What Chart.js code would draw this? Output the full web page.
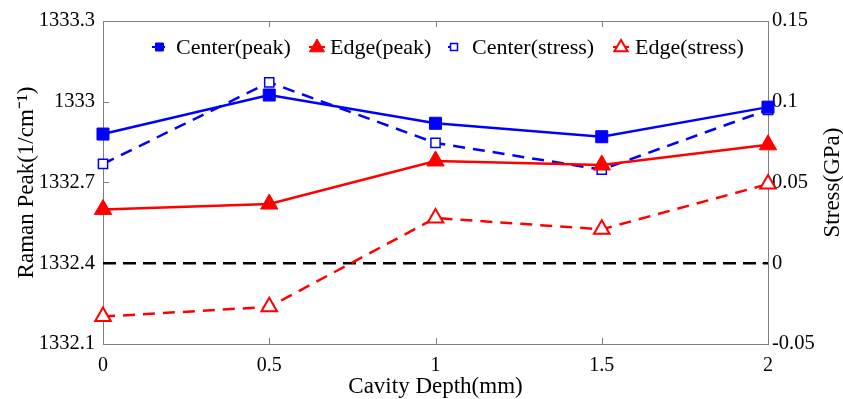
<!DOCTYPE html>
<html>
<head>
<meta charset="utf-8">
<script src="https://cdn.jsdelivr.net/npm/chart.js@4"></script>
<style>
  html, body { margin: 0; padding: 0; background: #fff; }
  #wrap { width: 843px; height: 399px; }
</style>
</head>
<body>
<div id="wrap"><canvas id="ramanChart" width="843" height="399"></canvas></div>
<script>
const depths = [0, 0.5, 1, 1.5, 2];
const centerPeak = [1332.88, 1333.025, 1332.92, 1332.87, 1332.98];
const edgePeak = [1332.60, 1332.62, 1332.78, 1332.765, 1332.84];
const centerStress = [0.0615, 0.112, 0.0745, 0.058, 0.095];
const edgeStress = [-0.033, -0.027, 0.028, 0.021, 0.049];
const zeroStress = [0, 0, 0, 0, 0];

const xTicks = [0, 0.5, 1, 1.5, 2];
const peakTicks = [1332.1, 1332.4, 1332.7, 1333, 1333.3];
const stressTicks = [-0.05, 0, 0.05, 0.1, 0.15];

const FONT = "'Liberation Serif', 'Times New Roman', serif";
const BLUE = '#0000ff';
const RED = '#ff0000';

const pts = vals => depths.map((d, i) => ({ x: d, y: vals[i] }));

// box round the plot plus small inward ticks, like matlab
const frameAndTicks = {
  id: 'frameAndTicks',
  beforeDatasetsDraw(chart) {
    const { ctx, chartArea: a, scales } = chart;
    ctx.save();
    ctx.strokeStyle = '#808080';
    ctx.lineWidth = 1;
    ctx.strokeRect(a.left + 0.5, a.top + 0.5, a.right - a.left, a.bottom - a.top);
    ctx.beginPath();
    xTicks.forEach(v => {
      const px = Math.round(scales.x.getPixelForValue(v)) + 0.5;
      ctx.moveTo(px, a.bottom); ctx.lineTo(px, a.bottom - 6);
      ctx.moveTo(px, a.top); ctx.lineTo(px, a.top + 6);
    });
    peakTicks.forEach(v => {
      const py = Math.round(scales.y.getPixelForValue(v)) + 0.5;
      ctx.moveTo(a.left, py); ctx.lineTo(a.left + 6, py);
    });
    stressTicks.forEach(v => {
      const py = Math.round(scales.y2.getPixelForValue(v)) + 0.5;
      ctx.moveTo(a.right, py); ctx.lineTo(a.right - 6, py);
    });
    ctx.stroke();
    ctx.restore();
  },
  afterDraw(chart) {
    // right title reads bottom to top, same as the left one
    const { ctx, chartArea: a } = chart;
    ctx.save();
    ctx.font = '23px ' + FONT;
    ctx.fillStyle = '#000';
    ctx.textAlign = 'center';
    ctx.textBaseline = 'middle';
    ctx.translate(833, (a.top + a.bottom) / 2);
    ctx.rotate(-Math.PI / 2);
    ctx.fillText('Stress(GPa)', 0, 0);
    ctx.restore();
  }
};

// legend sits inside the plot in one row
const innerLegend = {
  id: 'innerLegend',
  afterDraw(chart) {
    const { ctx } = chart;
    const items = [
      { ds: 0, x: 152, len: 13, r: 4, textX: 176 },
      { ds: 1, x: 309, len: 16, r: 8, textX: 330 },
      { ds: 2, x: 448, len: 10, r: 3.5, textX: 472 },
      { ds: 3, x: 613, len: 16, r: 7, textX: 635 }
    ];
    const y = 47;
    ctx.save();
    ctx.font = '22px ' + FONT;
    ctx.textBaseline = 'middle';
    items.forEach(it => {
      const ds = chart.data.datasets[it.ds];
      ctx.strokeStyle = ds.borderColor;
      ctx.lineWidth = 2;
      ctx.beginPath();
      ctx.moveTo(it.x, y); ctx.lineTo(it.x + it.len, y);
      ctx.stroke();
      const cx = it.x + it.len / 2 + (ds.pointStyle === 'rect' ? 1 : 0);
      const r = it.r;
      ctx.fillStyle = ds.pointBackgroundColor;
      ctx.strokeStyle = ds.pointBorderColor;
      ctx.lineWidth = ds.pointBorderWidth;
      ctx.beginPath();
      if (ds.pointStyle === 'rect') {
        ctx.rect(cx - r, y - r, r * 2, r * 2);
      } else {
        ctx.moveTo(cx, y - r);
        ctx.lineTo(cx + r * 0.95, y + r * 0.6);
        ctx.lineTo(cx - r * 0.95, y + r * 0.6);
        ctx.closePath();
      }
      ctx.fill();
      ctx.stroke();
      ctx.fillStyle = '#000';
      ctx.fillText(ds.label, it.textX, y + 1);
    });
    ctx.restore();
  }
};

const ramanData = {
  datasets: [
    {
      label: 'Center(peak)',
      data: pts(centerPeak),
      yAxisID: 'y',
      borderColor: BLUE,
      borderWidth: 2.5,
      pointStyle: 'rect',
      pointRadius: 8.5,
      pointBackgroundColor: BLUE,
      pointBorderColor: BLUE,
      pointBorderWidth: 1
    },
    {
      label: 'Edge(peak)',
      data: pts(edgePeak),
      yAxisID: 'y',
      borderColor: RED,
      borderWidth: 2.5,
      pointStyle: 'triangle',
      pointRadius: 10,
      pointBackgroundColor: RED,
      pointBorderColor: RED,
      pointBorderWidth: 1
    },
    {
      label: 'Center(stress)',
      data: pts(centerStress),
      yAxisID: 'y2',
      borderColor: BLUE,
      borderWidth: 2.5,
      borderDash: [12, 8],
      pointStyle: 'rect',
      pointRadius: 6.5,
      pointBackgroundColor: '#fff',
      pointBorderColor: BLUE,
      pointBorderWidth: 1.5
    },
    {
      label: 'Edge(stress)',
      data: pts(edgeStress),
      yAxisID: 'y2',
      borderColor: RED,
      borderWidth: 2.5,
      borderDash: [12, 8],
      pointStyle: 'triangle',
      pointRadius: 9,
      pointBackgroundColor: '#fff',
      pointBorderColor: RED,
      pointBorderWidth: 2
    },
    {
      label: 'zero',
      data: pts(zeroStress),
      yAxisID: 'y2',
      borderColor: '#000',
      borderWidth: 2.5,
      borderDash: [13, 7],
      pointRadius: 0,
      order: 10
    }
  ]
};

const ramanConfig = {
  type: 'line',
  data: ramanData,
  plugins: [frameAndTicks, innerLegend],
  options: {
    responsive: false,
    animation: false,
    clip: false,
    layout: { padding: { top: 21, left: 0, right: 0, bottom: 0 } },
    plugins: {
      legend: { display: false },
      tooltip: { enabled: false }
    },
    scales: {
      x: {
        type: 'linear',
        min: 0,
        max: 2,
        afterBuildTicks: s => { s.ticks = xTicks.map(v => ({ value: v })); },
        afterFit: s => { s.height = 55; },
        grid: { display: false },
        border: { display: false },
        ticks: { color: '#000', font: { family: FONT, size: 20 }, padding: 2, maxRotation: 0, callback: v => String(v) },
        title: { display: true, text: 'Cavity Depth(mm)', color: '#000', font: { family: FONT, size: 23 }, padding: { top: 0, bottom: -2 } }
      },
      y: {
        position: 'left',
        min: 1332.1,
        max: 1333.3,
        afterBuildTicks: s => { s.ticks = peakTicks.map(v => ({ value: v })); },
        afterFit: s => { s.width = 103; },
        grid: { display: false },
        border: { display: false },
        ticks: { color: '#000', font: { family: FONT, size: 20.5 }, padding: 0, callback: v => String(+v.toFixed(1)) },
        title: { display: true, text: 'Raman Peak(1/cm\u207B\u00B9)', color: '#000', font: { family: FONT, size: 23 }, padding: { top: 13, bottom: 0 } }
      },
      y2: {
        position: 'right',
        min: -0.05,
        max: 0.15,
        afterBuildTicks: s => { s.ticks = stressTicks.map(v => ({ value: v })); },
        afterFit: s => { s.width = 75; },
        grid: { display: false },
        border: { display: false },
        ticks: { color: '#000', font: { family: FONT, size: 20.5 }, padding: -4, callback: v => String(+v.toFixed(2)) },
        title: { display: false }
      }
    }
  }
};

const ramanChart = new Chart(document.getElementById('ramanChart'), ramanConfig);
</script>
</body>
</html>
